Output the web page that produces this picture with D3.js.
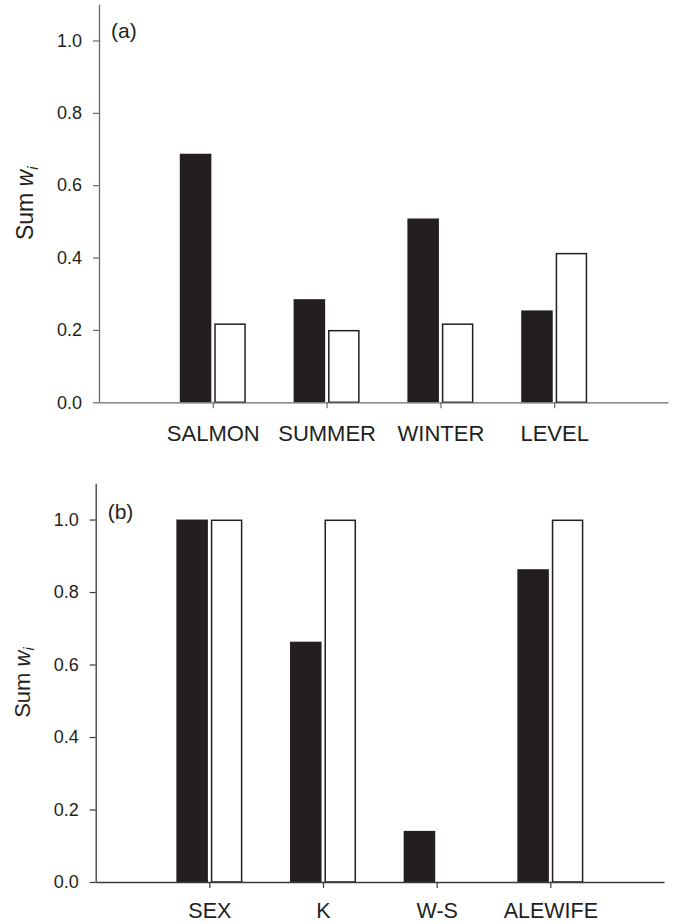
<!DOCTYPE html>
<html>
<head>
<meta charset="utf-8">
<script src="https://cdn.jsdelivr.net/npm/d3@7"></script>
<style>
  body { margin: 0; background: #fff; }
  svg { display: block; font-family: "Liberation Sans", Arial, sans-serif; }
</style>
</head>
<body>
<svg id="chart" width="674" height="924"></svg>
<script>
// Panel (a): environmental variables
const catsA = ["SALMON", "SUMMER", "WINTER", "LEVEL"];
const darkA = [0.687, 0.285, 0.508, 0.254];
const lightA = [0.218, 0.200, 0.218, 0.413];

// Panel (b): individual variables
const catsB = ["SEX", "K", "W-S", "ALEWIFE"];
const darkB = [1.0, 0.663, 0.141, 0.863];
const lightB = [1.0, 1.0, 0.0, 1.0];

const yTicks = [0, 0.2, 0.4, 0.6, 0.8, 1.0];
const seriesKeys = ["dark", "light"];

const INK = "#231f20";
const svg = d3.select("#chart");

function drawPanel(cfg) {
  const { cats, dark, light, left, right, top, bottom, tag, axisColor, ylabX, ylabSize } = cfg;
  const g = svg.append("g");

  const x = d3.scalePoint().domain(cats).range([left, right]).padding(1);
  const y = d3.scaleLinear().domain([0, 1.1]).range([bottom, top]);
  const xs = d3.scaleBand().domain(seriesKeys).range([-33, 33]).paddingInner(0.085);

  const rows = cats.map((c, i) => ({ cat: c, dark: dark[i], light: light[i] }));

  // filled bars
  g.selectAll("rect.dark").data(rows).enter().append("rect")
    .attr("class", "dark")
    .attr("x", d => x(d.cat) + xs("dark"))
    .attr("width", xs.bandwidth())
    .attr("y", d => y(d.dark))
    .attr("height", d => y(0) - y(d.dark))
    .attr("fill", INK);

  // open bars (a zero value draws nothing)
  g.selectAll("rect.light").data(rows.filter(d => d.light > 0)).enter().append("rect")
    .attr("class", "light")
    .attr("x", d => x(d.cat) + xs("light") + 0.75)
    .attr("width", xs.bandwidth() - 1.5)
    .attr("y", d => y(d.light) + 0.75)
    .attr("height", d => y(0) - y(d.light) - 0.75)
    .attr("fill", "#fff")
    .attr("stroke", INK)
    .attr("stroke-width", 1.5);

  // y axis
  const yAxis = g.append("g")
    .attr("transform", `translate(${left},0)`)
    .call(d3.axisLeft(y).tickValues(yTicks).tickFormat(d3.format(".1f"))
      .tickSize(6).tickSizeOuter(0).tickPadding(11));
  yAxis.select(".domain").attr("stroke", axisColor).attr("stroke-width", 1.3);
  yAxis.selectAll(".tick line").attr("stroke", axisColor).attr("stroke-width", 1.2);
  yAxis.selectAll(".tick text").attr("font-size", 18).attr("fill", INK)
    .attr("font-family", "Liberation Sans, Arial, sans-serif");

  // x axis
  const xAxis = g.append("g")
    .attr("transform", `translate(0,${bottom})`)
    .call(d3.axisBottom(x).tickSize(6).tickSizeOuter(0).tickPadding(cfg.xPad));
  xAxis.select(".domain").attr("stroke", axisColor).attr("stroke-width", 1.3);
  xAxis.selectAll(".tick line").attr("stroke", axisColor).attr("stroke-width", 1.2);
  xAxis.selectAll(".tick text").attr("font-size", cfg.xFont).attr("fill", INK)
    .attr("font-family", "Liberation Sans, Arial, sans-serif");

  // y axis title: Sum w_i
  const yl = g.append("text")
    .attr("transform", `translate(${ylabX},${(top + bottom) / 2}) rotate(-90)`)
    .attr("text-anchor", "middle")
    .attr("font-size", ylabSize)
    .attr("fill", INK);
  yl.append("tspan").text("Sum ");
  yl.append("tspan").attr("font-style", "italic").text("w");
  yl.append("tspan").attr("font-style", "italic").attr("font-size", ylabSize * 0.65)
    .attr("dy", "0.3em").text("i");

  // panel tag
  g.append("text")
    .attr("x", left + 12)
    .attr("y", cfg.tagY)
    .attr("font-size", 21)
    .attr("fill", INK)
    .text(tag);
}

drawPanel({
  cats: catsA, dark: darkA, light: lightA,
  left: 99, right: 668, top: 4.3, bottom: 402.3,
  tag: "(a)", tagY: 38, axisColor: "#6a6a6a", ylabX: 33, ylabSize: 23,
  xPad: 17, xFont: 22
});

drawPanel({
  cats: catsB, dark: darkB, light: lightB,
  left: 95.7, right: 664, top: 483.3, bottom: 882,
  tag: "(b)", tagY: 519, axisColor: "#3a3a3a", ylabX: 30, ylabSize: 22,
  xPad: 15, xFont: 21.5
});
</script>
</body>
</html>
